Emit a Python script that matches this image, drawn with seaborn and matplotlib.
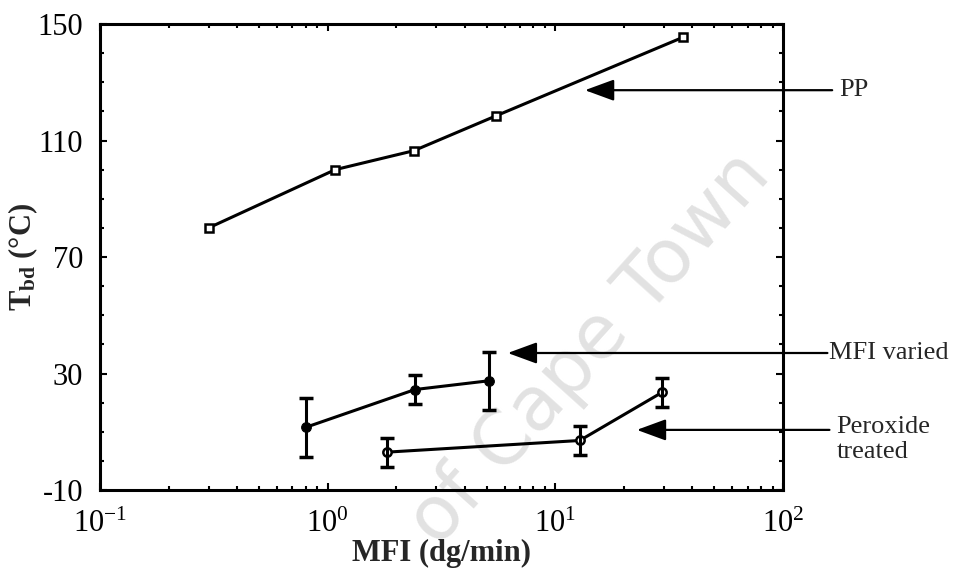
import numpy as np
import pandas as pd
import seaborn as sns
import matplotlib
matplotlib.use("Agg")
import matplotlib.pyplot as plt
from matplotlib.ticker import FixedLocator, MultipleLocator, LogLocator

# ---- data ----
pp_mfi = [0.30, 1.08, 2.39, 5.5, 36.5]
pp_tbd = [80, 100, 106.5, 118.5, 145.5]

var_mfi = [0.80, 2.42, 5.1]
var_tbd = [11.5, 24.5, 27.5]
var_err = [10, 5, 10]

per_mfi = [1.82, 12.8, 29.4]
per_tbd = [3.0, 7.0, 23.5]
per_err = [5, 5, 5]

y_ticks = [-10, 30, 70, 110, 150]

sns.set_theme(style="ticks")
plt.rcParams['font.family'] = ['Liberation Serif', 'DejaVu Serif']
plt.rcParams['mathtext.fontset'] = 'custom'
plt.rcParams['mathtext.rm'] = 'Liberation Serif'
plt.rcParams['mathtext.it'] = 'Liberation Serif:italic'
plt.rcParams['mathtext.bf'] = 'Liberation Serif:bold'
plt.rcParams['axes.unicode_minus'] = False

fig = plt.figure(figsize=(9.55, 5.76), dpi=100)
ax = fig.add_axes([0.1047, 0.1493, 0.7152, 0.8090])

# watermark
fig.text(0.618, 0.395, "of Cape Town", rotation=48, fontsize=54,
         family='DejaVu Sans', color='#e2e2e2', ha='center', va='center', zorder=-5)
ax.set_facecolor('none')

lw = 2.2
sns.lineplot(x=pp_mfi, y=pp_tbd, ax=ax, color='black', lw=lw, marker='s',
             markersize=6, markerfacecolor='white', markeredgecolor='black',
             markeredgewidth=1.8)
sns.lineplot(x=var_mfi, y=var_tbd, ax=ax, color='black', lw=lw, marker='o',
             markersize=7, markerfacecolor='black', markeredgecolor='black')
sns.lineplot(x=per_mfi, y=per_tbd, ax=ax, color='black', lw=lw, marker='o',
             markersize=6, markerfacecolor='white', markeredgecolor='black',
             markeredgewidth=1.8)
ax.errorbar(var_mfi, var_tbd, yerr=var_err, fmt='none', ecolor='black',
            elinewidth=2.2, capsize=5, capthick=2.5)
ax.errorbar(per_mfi, per_tbd, yerr=per_err, fmt='none', ecolor='black',
            elinewidth=2.2, capsize=5, capthick=2.5)

ax.set_xscale('log')
ax.set_xlim(0.1, 100)
ax.set_ylim(-10, 150)
ax.yaxis.set_major_locator(FixedLocator(y_ticks))
ax.yaxis.set_minor_locator(MultipleLocator(10))
ax.xaxis.set_major_locator(LogLocator(base=10))
ax.xaxis.set_minor_locator(LogLocator(base=10, subs=np.arange(2, 10)))

for s in ax.spines.values():
    s.set_linewidth(2.2)
    s.set_color('black')
ax.tick_params(which='both', direction='in', top=True, right=True,
               colors='black', width=1.5)
ax.tick_params(which='major', length=5, labelsize=22)
ax.tick_params(axis='y', which='major', pad=12)
ax.tick_params(axis='x', which='major', pad=14)
ax.tick_params(which='minor', length=3)

ax.set_xlabel("MFI (dg/min)", fontsize=22, fontweight='bold', labelpad=0)
ax.set_ylabel(r"$\mathbf{T_{bd}}$ (°C)", fontsize=22, fontweight='bold', labelpad=-2)

# annotations with arrows
arrow = dict(arrowstyle='-|>,head_length=1.5,head_width=0.55', lw=1.6,
             color='black', shrinkA=0, shrinkB=0, mutation_scale=12)
ax.annotate("", xy=(0.710, 0.858), xytext=(1.072, 0.858),
            xycoords='axes fraction', textcoords='axes fraction',
            arrowprops=arrow, annotation_clip=False)
ax.text(1.083, 0.858, "PP", transform=ax.transAxes, fontsize=19,
        ha='left', va='center')
ax.annotate("", xy=(0.597, 0.294), xytext=(1.065, 0.294),
            xycoords='axes fraction', textcoords='axes fraction',
            arrowprops=arrow, annotation_clip=False)
ax.text(1.067, 0.294, "MFI varied", transform=ax.transAxes, fontsize=19,
        ha='left', va='center')
ax.annotate("", xy=(0.786, 0.129), xytext=(1.068, 0.129),
            xycoords='axes fraction', textcoords='axes fraction',
            arrowprops=arrow, annotation_clip=False)
ax.text(1.078, 0.158, "Peroxide\ntreated", transform=ax.transAxes, fontsize=19,
        ha='left', va='top', linespacing=1.15)

fig.savefig("out.png", dpi=100)
